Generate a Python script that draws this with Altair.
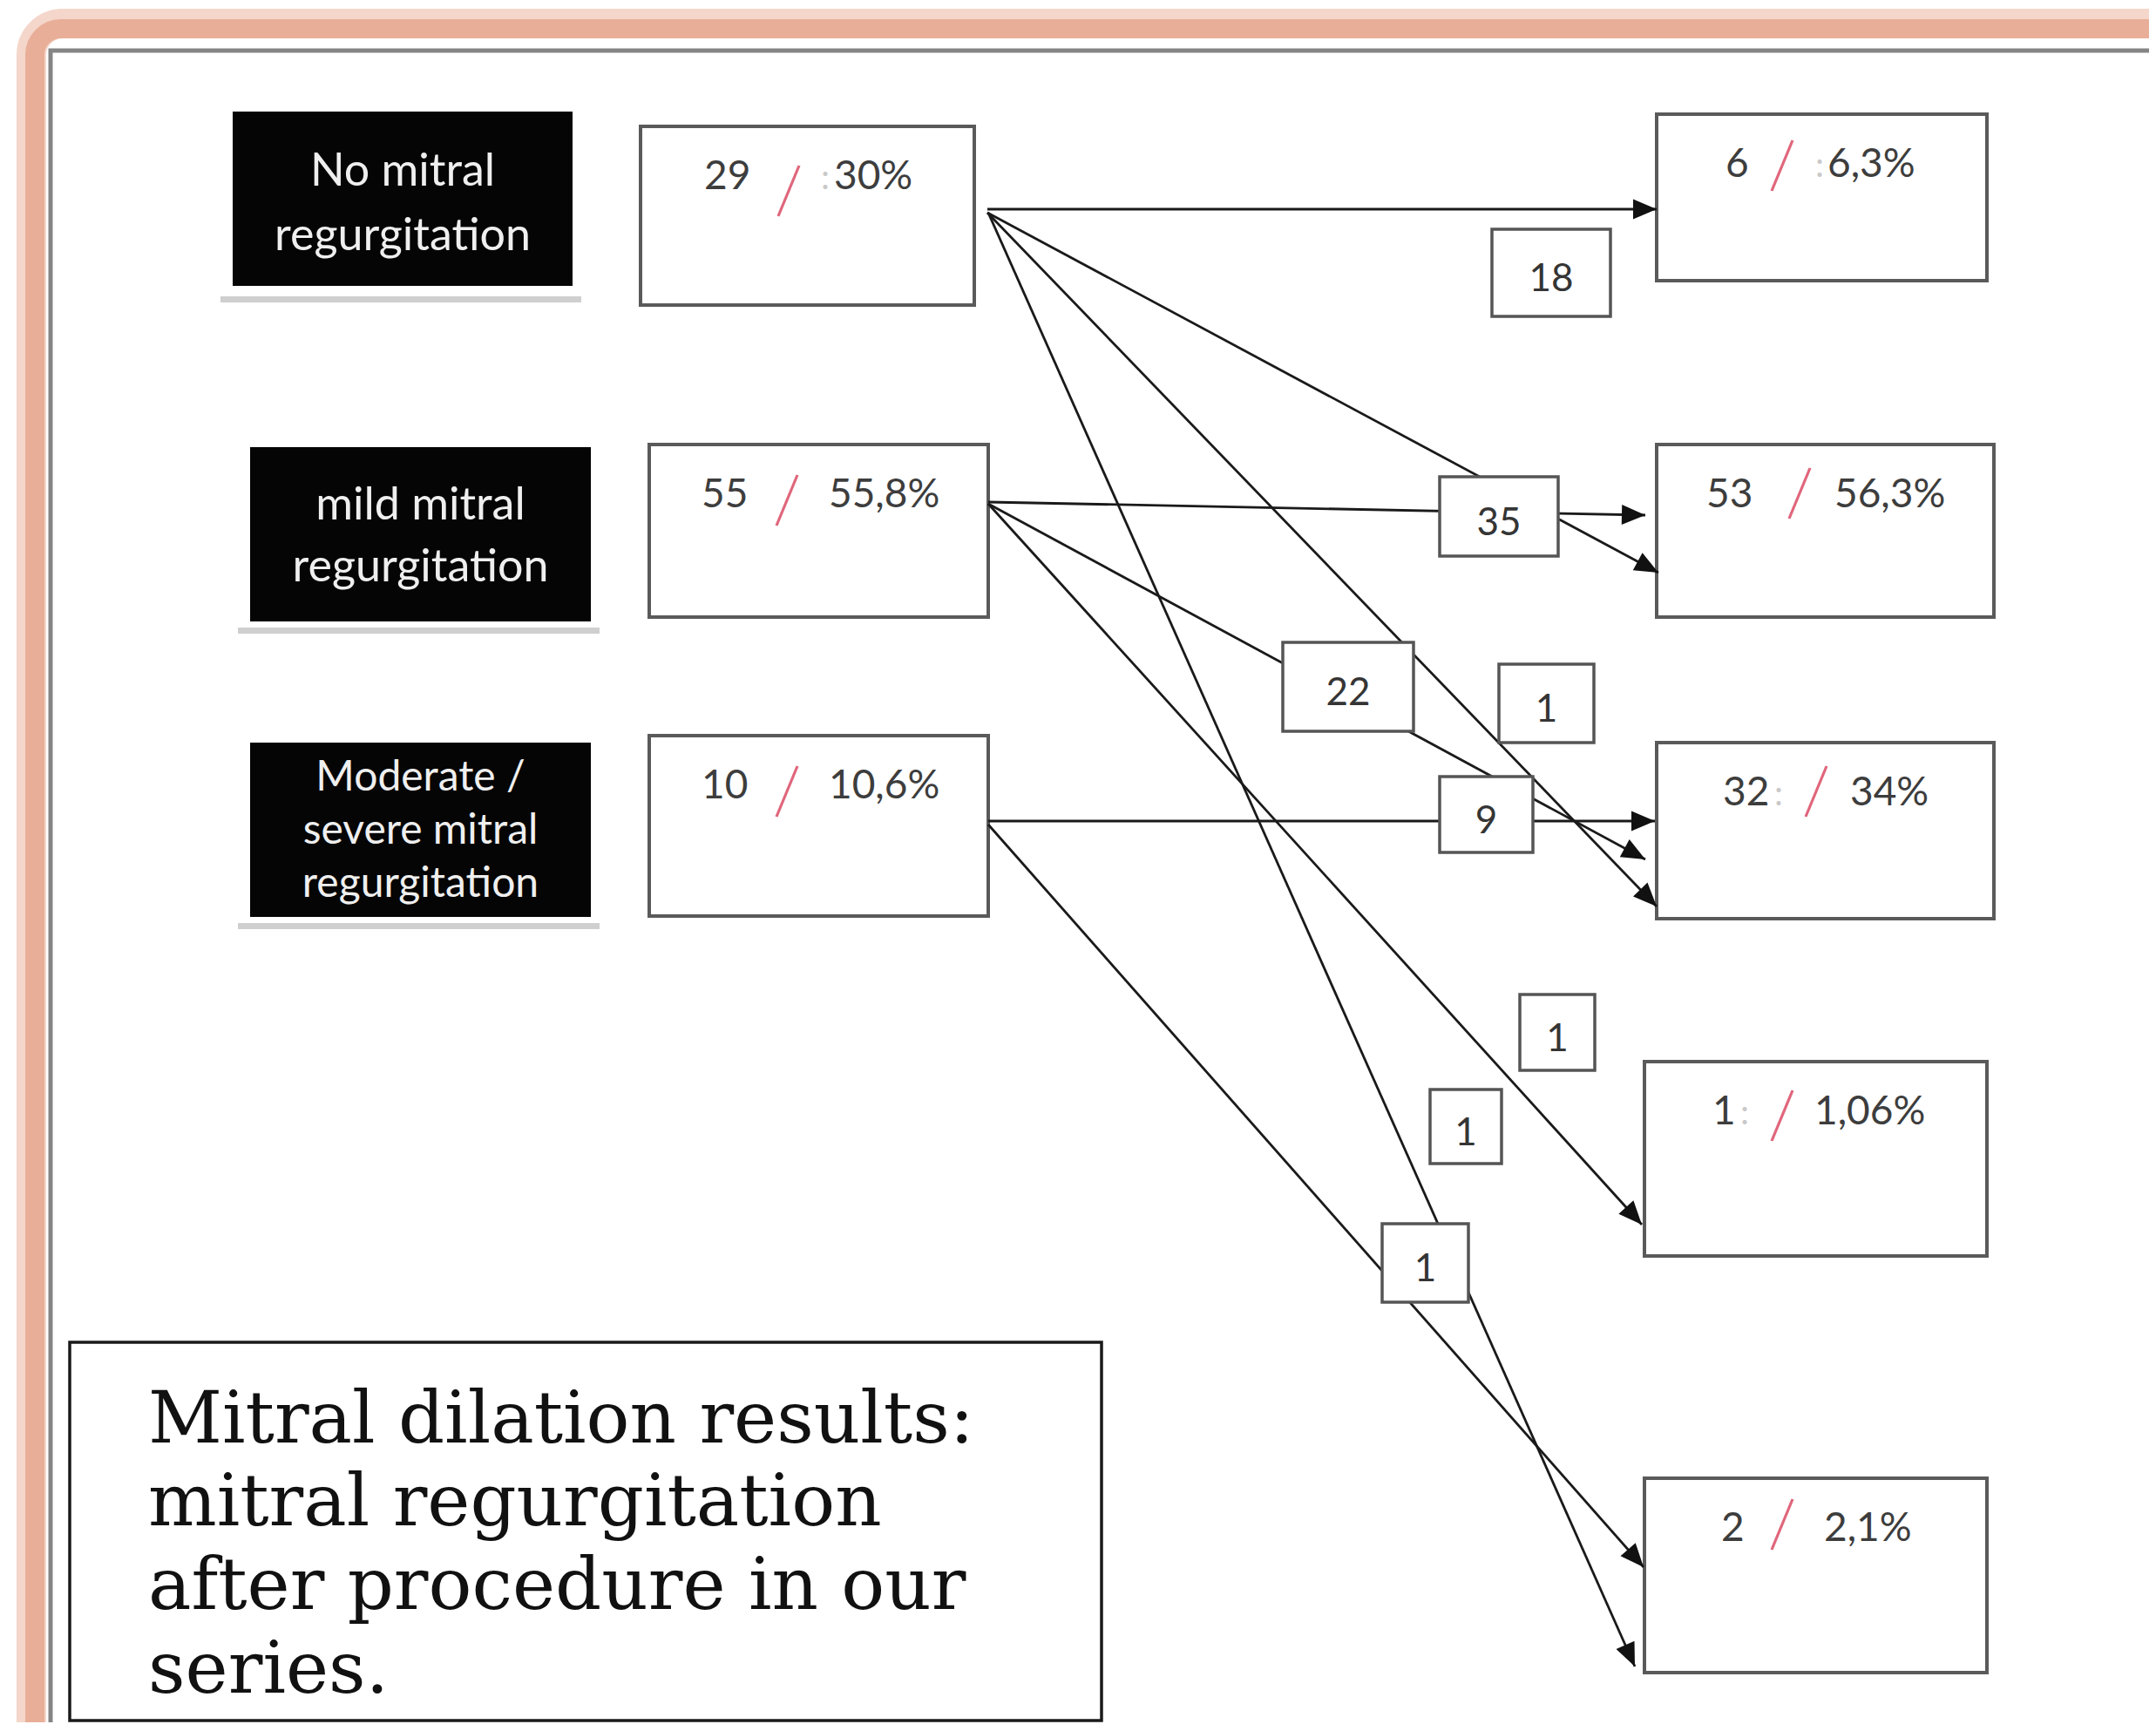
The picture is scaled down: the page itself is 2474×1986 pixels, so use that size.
import altair as alt
import pandas as pd
import numpy as np

# ---------------- data ----------------
before_label_lines = [
    ["No mitral", "regurgitation"],
    ["mild mitral", "regurgitation"],
    ["Moderate /", "severe mitral", "regurgitation"],
]
before_counts = ["29", "55", "10"]
before_pcts = ["30%", "55,8%", "10,6%"]
after_counts = ["6", "53", "32", "1", "2"]
after_pcts = ["6,3%", "56,3%", "34%", "1,06%", "2,1%"]
flow_counts = ["18", "35", "22", "1", "9", "1", "1", "1"]
caption_lines = ["Mitral dilation results:", "mitral regurgitation",
                 "after procedure in our", "series."]

# ---------------- layout (pixel units of the 2474x1986 picture) ----------------
W, H = 2458, 1968
XD = [8, 8 + W]
YD = [8, 8 + H]

label_boxes = [(267, 128, 657, 328), (287, 513, 678, 713), (287, 852, 678, 1052)]
label_baseline0 = [213, 596, 907]
label_pitch = [74, 71, 61]
label_font = [52, 52, 48]
label_shadow_y = [343, 723, 1062]

# x0, y0, x1, y1, number-left, slash-centre, pct-left, slash-top-offset
value_boxes = [
    (735, 145, 1118, 350, 808, 905, 957, 45),
    (745, 510, 1134, 708, 805, 903, 951, 35),
    (745, 844, 1134, 1051, 805, 903, 951, 35),
    (1901, 131, 2280, 322, 1980, 2045, 2097, 30),
    (1901, 510, 2288, 708, 1958, 2065, 2105, 27),
    (1901, 852, 2288, 1054, 1977, 2084, 2123, 27),
    (1887, 1218, 2280, 1441, 1965, 2045, 2082, 33),
    (1887, 1696, 2280, 1919, 1975, 2045, 2093, 24),
]
faint_colons = [(942, 217), (2083, 203), (2036, 924), (1997, 1290)]

count_boxes = [
    (1712, 263, 1848, 363), (1652, 547, 1788, 638), (1472, 737, 1622, 839),
    (1720, 762, 1829, 852), (1652, 891, 1759, 978), (1744, 1141, 1830, 1228),
    (1641, 1250, 1723, 1335), (1586, 1404, 1685, 1494),
]

flow_lines = [
    (1133, 240, 1901, 240),
    (1133, 244, 1903, 657),
    (1133, 244, 1901, 1040),
    (1134, 244, 1876, 1912),
    (1134, 576, 1888, 591),
    (1134, 578, 1888, 986),
    (1134, 578, 1884, 1405),
    (1134, 942, 1899, 942),
    (1134, 946, 1886, 1798),
]

caption_box = (80, 1540, 1264, 1974)
caption_x = 170
caption_baselines = [1655, 1750, 1846, 1942]

# ---------------- helpers ----------------
xs = alt.Scale(domain=XD, nice=False, zero=False)
ys = alt.Scale(domain=YD, nice=False, zero=False, reverse=True)


def ex(f="x"):
    return alt.X(f"{f}:Q", scale=xs, axis=None)


def ey(f="y"):
    return alt.Y(f"{f}:Q", scale=ys, axis=None)


def rects(rows, **kw):
    df = pd.DataFrame(rows, columns=["x", "y", "x2", "y2"])
    return alt.Chart(df).mark_rect(**kw).encode(
        x=ex(), y=ey(), x2=alt.X2("x2:Q"), y2=alt.Y2("y2:Q"))


def texts(rows, **kw):
    df = pd.DataFrame(rows, columns=["x", "y", "t"])
    return alt.Chart(df).mark_text(baseline="alphabetic", **kw).encode(
        x=ex(), y=ey(), text="t:N")


layers = []

# frame
layers.append(rects([(36, 27, 2800, 2300)], fillOpacity=0, stroke="#f4d6ca",
                    strokeWidth=34, cornerRadius=36, clip=True))
layers.append(rects([(40, 33, 2800, 2300)], fillOpacity=0, stroke="#e8ae98",
                    strokeWidth=22, cornerRadius=30, clip=True))
layers.append(rects([(58, 58, 2800, 2300)], fillOpacity=0, stroke="#858585",
                    strokeWidth=5, clip=True))

# black label boxes with shadow bars
layers.append(rects([(b[0] - 14, s - 3, b[2] + 10, s + 4)
                     for b, s in zip(label_boxes, label_shadow_y)],
                    color="#cfcfcf"))
layers.append(rects(label_boxes, color="#050505"))
for i, lines in enumerate(before_label_lines):
    b = label_boxes[i]
    cx = (b[0] + b[2]) / 2
    rows = [(cx, label_baseline0[i] + k * label_pitch[i], t) for k, t in enumerate(lines)]
    layers.append(texts(rows, align="center", font="Lato", fontSize=label_font[i],
                        color="#efefef"))

# value boxes
layers.append(rects([v[:4] for v in value_boxes], fill="white", stroke="#5a5a5a",
                    strokeWidth=4))

# flow lines
fl = pd.DataFrame(flow_lines, columns=["x", "y", "x2", "y2"])
layers.append(alt.Chart(fl).mark_rule(color="#1a1a1a", strokeWidth=2.8).encode(
    x=ex(), y=ey(), x2=alt.X2("x2:Q"), y2=alt.Y2("y2:Q")))

# arrow heads
AL = 27
arr = []
for (x0, y0, x1, y1) in flow_lines:
    dx, dy = x1 - x0, y1 - y0
    n = float(np.hypot(dx, dy))
    ang = (np.degrees(np.arctan2(dy, dx)) + 360.0) % 360.0
    arr.append({"x": x1 - dx / n * AL / 2, "y": y1 - dy / n * AL / 2, "a": ang})
layers.append(alt.Chart(pd.DataFrame(arr)).mark_point(
    shape="M1,0L-1,-0.85L-1,0.85Z", filled=True, size=AL * AL, color="#111111",
    opacity=1, strokeWidth=0).encode(
    x=ex(), y=ey(), angle=alt.Angle("a:Q", scale=None)))

# count boxes
layers.append(rects(count_boxes, fill="white", stroke="#555555", strokeWidth=3.5))
layers.append(texts([((b[0] + b[2]) / 2, (b[1] + b[3]) / 2 + 21, t)
                     for b, t in zip(count_boxes, flow_counts)],
                    align="center", font="Lato", fontSize=44, color="#353535"))

# value texts
nums = before_counts + after_counts
pcts = before_pcts + after_pcts
layers.append(texts([(v[4], v[1] + 72, t) for v, t in zip(value_boxes, nums)],
                    align="left", font="Lato", fontSize=46, color="#3d3d3d"))
layers.append(texts([(v[6], v[1] + 72, t) for v, t in zip(value_boxes, pcts)],
                    align="left", font="Lato", fontSize=46, color="#3d3d3d"))
layers.append(texts([(x, y, ":") for x, y in faint_colons], align="left",
                    font="Lato", fontSize=40, color="#c9c9c9"))
sl = pd.DataFrame([(v[5] + 12, v[1] + v[7], v[5] - 12, v[1] + v[7] + 58)
                   for v in value_boxes], columns=["x", "y", "x2", "y2"])
layers.append(alt.Chart(sl).mark_rule(color="#e0667c", strokeWidth=3.2).encode(
    x=ex(), y=ey(), x2=alt.X2("x2:Q"), y2=alt.Y2("y2:Q")))

# caption
layers.append(rects([caption_box], fill="white", stroke="#1a1a1a", strokeWidth=3.5))
layers.append(texts([(caption_x, yb, t) for yb, t in zip(caption_baselines, caption_lines)],
                    align="left", font="DejaVu Serif", fontSize=83, color="#111111"))

chart = alt.layer(*layers).properties(width=W, height=H, padding=0).configure_view(
    strokeWidth=0)

chart.save("out.html", embed_options={"renderer": "svg", "actions": False})
